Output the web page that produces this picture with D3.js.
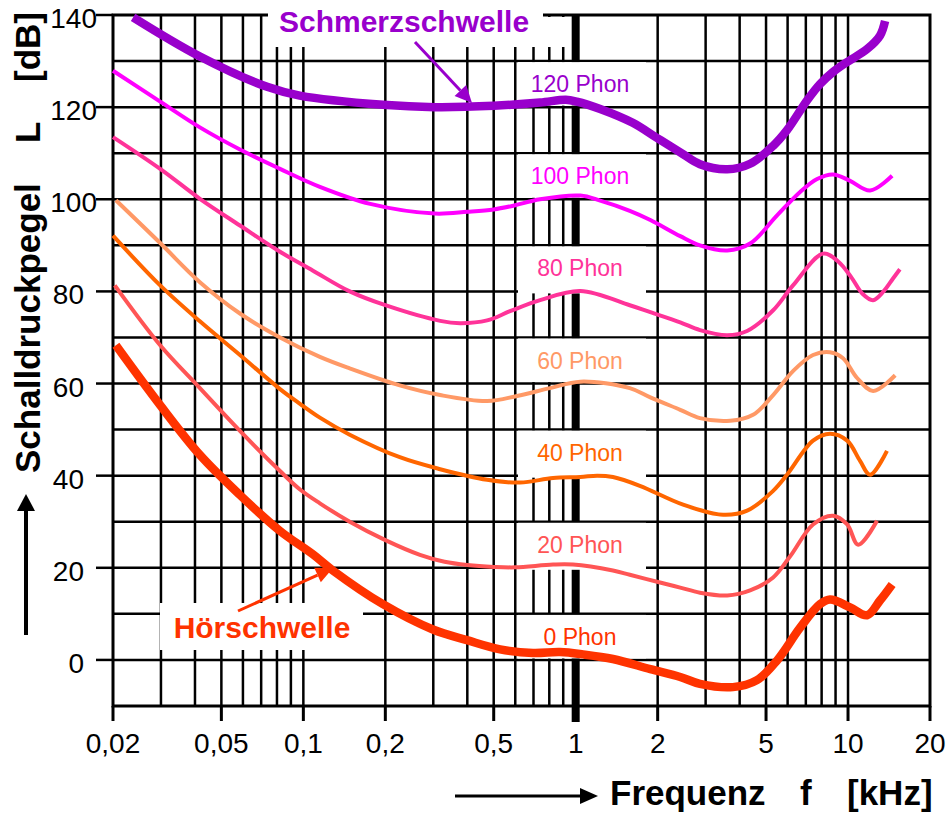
<!DOCTYPE html>
<html>
<head>
<meta charset="utf-8">
<script src="https://cdn.jsdelivr.net/npm/d3@7"></script>
<style>
  body { margin: 0; background: #fff; }
  svg { display: block; }
  text { font-family: "Liberation Sans", Arial, sans-serif; }
</style>
</head>
<body>
<script>
// equal loudness contours: [kHz, dB]
var phonLevels = [0, 20, 40, 60, 80, 100, 120];
var phonNames = ["0 Phon", "20 Phon", "40 Phon", "60 Phon", "80 Phon", "100 Phon", "120 Phon"];

var phon0 = [[0.0205,68.3],[0.0298,55.3],[0.0417,44.5],[0.0585,35.8],[0.0821,28],[0.1085,22.9],[0.1285,19.4],
  [0.196,12.1],[0.299,6.6],[0.399,4.3],[0.528,2.3],[0.697,1.5],[0.876,1.7],[1.064,1.2],[1.37,0.2],[1.88,-2],
  [2.42,-3.7],[2.86,-5.2],[3.78,-5.9],[4.63,-4.4],[5.49,-0.1],[6.67,7],[7.89,12.1],[8.59,13.1],[10.18,11.4],
  [11.75,9.7],[13.1,12.9],[14.52,16.4]];
var phon20 = [[0.0203,81.3],[0.0298,68.3],[0.0417,59],[0.0585,49.7],[0.0821,41],[0.0972,37],[0.115,34],
  [0.148,30],[0.2,26],[0.268,22.8],[0.33,21.3],[0.4,20.6],[0.5,20.2],[0.6,20.1],[0.826,20.7],[0.978,20.7],
  [1.37,19.4],[1.58,18.5],[2.04,16.8],[2.42,15.7],[2.86,14.6],[3.6,14],[4.37,15.1],[5.31,17.9],[6.13,22.5],
  [7.44,29.4],[8.81,31.3],[9.93,29.4],[10.9,25],[12.78,30.2]];
var phon40 = [[0.02,92.1],[0.0298,81.3],[0.0417,73.5],[0.0585,66.2],[0.0821,58.8],[0.0972,55.6],[0.115,52.6],
  [0.148,48.9],[0.226,44],[0.318,41.4],[0.473,39.1],[0.625,38.5],[0.826,39.5],[1.04,39.7],[1.2,40],[1.37,39.7],
  [1.72,37.8],[2.48,33.7],[3.48,31.5],[4.26,32.4],[5.31,36.7],[5.97,40.2],[7.44,47.6],[8.59,49.1],[9.93,47.6],
  [11.07,43.2],[12.05,40.2],[13.9,45.4]];
var phon60 = [[0.0205,99.8],[0.0298,90.5],[0.0417,82],[0.0585,75.2],[0.0821,70],[0.115,65.8],[0.148,63.3],
  [0.226,59.6],[0.318,57.5],[0.473,56.2],[0.609,57.3],[0.805,59],[1.04,60.4],[1.58,59],[1.88,57],
  [2.42,54.3],[2.86,52.5],[3.69,51.9],[4.48,53.2],[5.31,57.5],[6.28,62.7],[7.44,66.2],[8.59,66.8],[9.59,65.5],
  [10.8,61.2],[12.36,58.4],[14.9,61.8]];
var phon80 = [[0.02,113.5],[0.0298,106.6],[0.0417,100.1],[0.0585,94.3],[0.0821,88.6],[0.1085,84.5],[0.148,80],
  [0.2,77],[0.318,73.6],[0.376,73.1],[0.473,73.7],[0.574,75.7],[0.74,78.1],[1.04,80.1],[1.58,77],[1.88,75.5],
  [2.42,73.3],[2.86,71.6],[3.6,70.5],[4.26,71.4],[5.31,75.9],[6.28,81.3],[8.1,88.2],[9.2,86.5],[10.3,83],
  [11.3,79.5],[12.36,78.1],[13.5,80],[14.63,82.8],[15.5,84.8]];
var phon100 = [[0.02,127.9],[0.0298,121.2],[0.0417,115.6],[0.0585,110.8],[0.0821,106.6],[0.115,102.7],[0.176,99],
  [0.304,96.9],[0.4,97.3],[0.5,97.8],[0.59,98.6],[0.74,100],[1.04,100.8],[1.23,99.7],[1.58,97.5],[1.88,95.5],
  [2.42,92],[2.86,90],[3.6,88.9],[4.37,90.4],[5.49,96.5],[6.67,101.6],[7.7,104.4],[8.81,105.4],[10.18,104],
  [12.05,101.9],[14.52,105.1]];
var phon120 = [[0.0237,139.5],[0.0417,131],[0.0736,124.4],[0.097,122.5],[0.196,120.5],[0.304,120],[0.5,120.3],
  [0.74,121],[0.92,121.6],[1.01,121.2],[1.23,119.6],[1.62,116.6],[1.99,113.3],[2.42,110.2],[2.86,107.6],
  [3.6,106.5],[4.37,107.7],[5.31,111.6],[5.97,115],[7.08,121.5],[7.89,125],[8.8,127.6],[9.93,129.8],
  [11.75,132.6],[13.1,135.5],[13.68,138.7]];
var contours = [phon0, phon20, phon40, phon60, phon80, phon100, phon120];

var xTickValues = [0.02, 0.05, 0.1, 0.2, 0.5, 1, 2, 5, 10, 20];
var xTickLabels = ["0,02", "0,05", "0,1", "0,2", "0,5", "1", "2", "5", "10", "20"];
var yTickValues = [0, 20, 40, 60, 80, 100, 120, 140];
var gridFreqs = [0.03, 0.04, 0.05, 0.06, 0.07, 0.08, 0.09, 0.1, 0.2, 0.3, 0.4, 0.5, 0.6, 0.7, 0.8, 0.9,
  2, 3, 4, 5, 6, 7, 8, 9, 10];
var gridLevels = [0, 10, 20, 30, 40, 50, 60, 70, 80, 90, 100, 110, 120, 130];

// styles
var colors = ["#ff3300", "#ff5555", "#ff6600", "#ff9966", "#ff3399", "#ff00ff", "#9900cc"];
var widths = [8.5, 4, 4, 4, 4, 4, 8.5];
var hideLine = [false, true, true, false, true, false, false];

var width = 947, height = 814;
var svg = d3.select("body").append("svg")
  .attr("width", width)
  .attr("height", height);

var x = d3.scaleLog().domain([0.02, 20]).range([113, 930]);
var y = d3.scaleLinear().domain([-10, 140]).range([706, 15]);

// grid
svg.append("g").selectAll("line")
  .data(gridFreqs)
  .enter().append("line")
  .attr("x1", function(d) { return x(d); })
  .attr("x2", function(d) { return x(d); })
  .attr("y1", y(140))
  .attr("y2", y(-10))
  .attr("stroke", "#000")
  .attr("stroke-width", 2.5);

svg.append("g").selectAll("line")
  .data(gridLevels)
  .enter().append("line")
  .attr("x1", x(0.02))
  .attr("x2", x(20))
  .attr("y1", function(d) { return y(d); })
  .attr("y2", function(d) { return y(d); })
  .attr("stroke", "#000")
  .attr("stroke-width", 2.5);

// frame
svg.append("rect")
  .attr("x", x(0.02)).attr("y", y(140))
  .attr("width", x(20) - x(0.02)).attr("height", y(-10) - y(140))
  .attr("fill", "none").attr("stroke", "#000").attr("stroke-width", 3);

// white box behind "Schmerzschwelle" (cuts the top of the grid)
svg.append("rect").attr("x", 268).attr("y", 0).attr("width", 275).attr("height", 47).attr("fill", "#fff");
svg.append("rect").attr("x", 543).attr("y", 17).attr("width", 26).attr("height", 30).attr("fill", "#fff");

// 1 kHz line
svg.append("line")
  .attr("x1", x(1)).attr("x2", x(1))
  .attr("y1", y(140)).attr("y2", y(-10) + 16)
  .attr("stroke", "#000").attr("stroke-width", 8);

// ticks
svg.append("g").selectAll("line")
  .data(xTickValues)
  .enter().append("line")
  .attr("x1", function(d) { return x(d); })
  .attr("x2", function(d) { return x(d); })
  .attr("y1", y(-10))
  .attr("y2", y(-10) + 15)
  .attr("stroke", "#000")
  .attr("stroke-width", 3);

svg.append("g").selectAll("line")
  .data(yTickValues)
  .enter().append("line")
  .attr("x1", x(0.02) - 17)
  .attr("x2", x(0.02))
  .attr("y1", function(d) { return y(d); })
  .attr("y2", function(d) { return y(d); })
  .attr("stroke", "#000")
  .attr("stroke-width", 2.5);

svg.append("g").selectAll("text")
  .data(xTickValues)
  .enter().append("text")
  .attr("x", function(d) { return x(d); })
  .attr("y", 753)
  .attr("text-anchor", "middle")
  .style("font-size", "28px")
  .text(function(d, i) { return xTickLabels[i]; });

svg.append("g").selectAll("text")
  .data(yTickValues)
  .enter().append("text")
  .attr("x", function(d) { return d >= 100 ? 97 : 84; })
  .attr("y", function(d) { return y(d) + 13; })
  .attr("text-anchor", "end")
  .style("font-size", "28px")
  .text(function(d) { return d; });

// white boxes behind the other labels
svg.append("rect").attr("x", 160).attr("y", 603).attr("width", 203).attr("height", 47).attr("fill", "#fff");

svg.append("g").selectAll("rect")
  .data(phonLevels)
  .enter().append("rect")
  .attr("x", 518)
  .attr("width", 128)
  .attr("y", function(d) { return y(d + 5) - 22; })
  .attr("height", function(d, i) { return y(d) - y(d + 5) + 22 + (hideLine[i] ? 2 : -1.5); })
  .attr("fill", "#fff");

// curves
var line = d3.line()
  .x(function(d) { return x(d[0]); })
  .y(function(d) { return y(d[1]); })
  .curve(d3.curveCatmullRom.alpha(0.5));

svg.append("g").selectAll("path")
  .data(contours)
  .enter().append("path")
  .attr("d", line)
  .attr("fill", "none")
  .attr("stroke", function(d, i) { return colors[i]; })
  .attr("stroke-width", function(d, i) { return widths[i]; })
  .attr("stroke-linejoin", "round");

svg.append("g").selectAll("text")
  .data(phonLevels)
  .enter().append("text")
  .attr("x", 580)
  .attr("y", function(d) { return y(d + 5) + 8; })
  .attr("text-anchor", "middle")
  .style("font-size", "23px")
  .attr("fill", function(d, i) { return colors[i]; })
  .text(function(d, i) { return phonNames[i]; });

// arrows
function arrow(x1, y1, x2, y2, color, w, len, half) {
  var a = Math.atan2(y2 - y1, x2 - x1);
  var bx = x2 - len * Math.cos(a), by = y2 - len * Math.sin(a);
  svg.append("line")
    .attr("x1", x1).attr("y1", y1).attr("x2", bx).attr("y2", by)
    .attr("stroke", color).attr("stroke-width", w);
  var pts = [[x2, y2],
    [bx + half * Math.sin(a), by - half * Math.cos(a)],
    [bx - half * Math.sin(a), by + half * Math.cos(a)]];
  svg.append("polygon")
    .attr("points", pts.map(function(p) { return p.join(","); }).join(" "))
    .attr("fill", color);
}

svg.append("text")
  .attr("x", 404).attr("y", 32)
  .attr("text-anchor", "middle")
  .style("font-size", "30px").style("font-weight", "bold")
  .attr("fill", "#9900cc")
  .text("Schmerzschwelle");
arrow(415, 42, 472, 103, "#9900cc", 3, 17, 8);

svg.append("text")
  .attr("x", 262).attr("y", 638)
  .attr("text-anchor", "middle")
  .style("font-size", "30px").style("font-weight", "bold")
  .attr("fill", "#ff3300")
  .text("Hörschwelle");
arrow(238, 611, 333, 568, "#ff3300", 3, 17, 8);

// axis titles
svg.append("text")
  .attr("x", 610).attr("y", 805)
  .style("font-size", "35px").style("font-weight", "bold")
  .text("Frequenz");
svg.append("text")
  .attr("x", 800).attr("y", 805)
  .style("font-size", "35px").style("font-weight", "bold")
  .text("f");
svg.append("text")
  .attr("x", 847).attr("y", 805)
  .style("font-size", "35px").style("font-weight", "bold")
  .text("[kHz]");
arrow(455, 796, 598, 796, "#000", 3, 18, 8);

[["Schalldruckpegel", 473], ["L", 143], ["[dB]", 82]].forEach(function(t) {
  svg.append("text")
    .attr("transform", "translate(40," + t[1] + ") rotate(-90)")
    .style("font-size", "35px").style("font-weight", "bold")
    .text(t[0]);
});
arrow(26, 635, 26, 494, "#000", 4, 17, 9);
</script>
</body>
</html>
